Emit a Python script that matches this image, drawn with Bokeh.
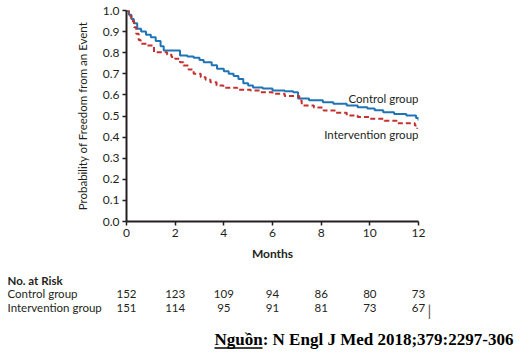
from bokeh.plotting import figure
from bokeh.layouts import column
from bokeh.models import Range1d, FixedTicker, PrintfTickFormatter, Label
from bokeh.core.properties import value
from bokeh.embed import file_html
from bokeh.resources import INLINE

# ---- data ----
control_t = [0, 0.1, 0.2, 0.3, 0.44, 0.6, 0.8, 1.0, 1.2, 1.4, 1.53, 2.2, 2.5, 2.76, 3.0, 3.17, 3.5, 3.72,
             4.0, 4.2, 4.4, 4.6, 4.8, 5.0, 5.2, 5.6, 6.0, 6.5, 6.85, 7.05, 7.5, 8.07, 8.5, 9.05, 9.5,
             9.9, 10.2, 10.55, 11.0, 11.5, 11.9, 12.0]
control_s = [1.0, 0.98, 0.96, 0.94, 0.913, 0.90, 0.885, 0.873, 0.855, 0.83, 0.81, 0.787, 0.782, 0.776,
             0.765, 0.755, 0.74, 0.724, 0.712, 0.70, 0.69, 0.675, 0.655, 0.645, 0.635, 0.630, 0.621,
             0.617, 0.613, 0.583, 0.575, 0.565, 0.558, 0.55, 0.542, 0.535, 0.527, 0.518, 0.51, 0.502,
             0.49, 0.479]
interv_t = [0, 0.1, 0.2, 0.31, 0.4, 0.5, 0.58, 0.85, 1.13, 1.67, 1.85, 2.0, 2.2, 2.34, 2.55, 2.76, 3.05,
            3.25, 3.45, 3.7, 3.98, 4.55, 5.1, 5.5, 6.0, 6.5, 7.1, 7.2, 7.7, 8.1, 8.6, 9.05, 9.5, 10.0,
            10.6, 11.1, 11.85, 11.95]
interv_s = [1.0, 0.975, 0.95, 0.921, 0.89, 0.86, 0.843, 0.834, 0.802, 0.79, 0.78, 0.771, 0.755, 0.739,
            0.72, 0.70, 0.684, 0.672, 0.66, 0.645, 0.634, 0.624, 0.621, 0.613, 0.605, 0.595, 0.573, 0.55,
            0.54, 0.526, 0.515, 0.502, 0.495, 0.487, 0.478, 0.466, 0.455, 0.44]

risk_months = [0, 2, 4, 6, 8, 10, 12]
risk_control = [152, 123, 109, 94, 86, 80, 73]
risk_interv = [151, 114, 95, 91, 81, 73, 67]
group_names = ["Control group", "Intervention group"]
x_ticks = [0, 2, 4, 6, 8, 10, 12]
y_ticks = [0.0, 0.1, 0.2, 0.3, 0.4, 0.5, 0.6, 0.7, 0.8, 0.9, 1.0]
source_text = "Nguồn: N Engl J Med 2018;379:2297-306"

FONT = "Lato"
TXT = "#231f20"
BLUE = "#1f74b6"
RED = "#c3302d"

W = 526
LEFT, RIGHT = 126, 108
TOP_H, BOT_H = 265, 87

p = figure(width=W, height=TOP_H, output_backend="svg", toolbar_location=None,
           x_range=Range1d(0, 12), y_range=Range1d(0, 1),
           min_border_left=LEFT, min_border_right=RIGHT, min_border_top=10, min_border_bottom=TOP_H - 221)
p.frame_align = False
p.outline_line_color = None
p.xgrid.visible = False
p.ygrid.visible = False

for ax in (p.xaxis[0], p.yaxis[0]):
    ax.axis_line_width = 2
    ax.axis_line_color = "#231f20"
    ax.major_tick_line_width = 1.5
    ax.major_tick_line_color = "#231f20"
    ax.major_tick_out = 4
    ax.major_tick_in = 0
    ax.minor_tick_line_color = None
    ax.major_label_text_font = FONT
    ax.major_label_text_font_size = "12px"
    ax.major_label_text_color = TXT
    ax.axis_label_text_font = FONT
    ax.axis_label_text_color = TXT

p.xaxis.ticker = FixedTicker(ticks=x_ticks)
p.yaxis.ticker = FixedTicker(ticks=y_ticks)
p.yaxis.formatter = PrintfTickFormatter(format="%.1f")
p.xaxis.major_label_standoff = 3
p.yaxis.major_label_standoff = 3
p.xaxis.axis_label = "Months"
p.xaxis.axis_label_text_font_style = "bold"
p.xaxis.axis_label_text_font_size = "12px"
p.xaxis.axis_label_standoff = 6
p.yaxis.axis_label = "Probability of Freedom from an Event"
p.yaxis.axis_label_text_font_style = "normal"
p.yaxis.axis_label_text_font_size = "11.5px"
p.yaxis.axis_label_standoff = 11

p.step(control_t, control_s, mode="after", line_color=BLUE, line_width=2)
p.step(interv_t, interv_s, mode="after", line_color=RED, line_width=2, line_dash="5 3")

p.add_layout(Label(x=12, y=0.585, text=group_names[0], text_font=FONT, text_font_size="11.5px",
                   text_align="right", text_baseline="middle", text_color=TXT))
p.add_layout(Label(x=12, y=0.41, text=group_names[1], text_font=FONT, text_font_size="11.5px",
                   text_align="right", text_baseline="middle", text_color=TXT))

# ---- risk table figure (x mapped so months line up with the axis above) ----
px_per_month = (W - LEFT - RIGHT) / 12.0
x0 = -LEFT / px_per_month
x1 = 12 + RIGHT / px_per_month
q = figure(width=W, height=BOT_H, output_backend="svg", toolbar_location=None,
           x_range=Range1d(x0, x1), y_range=Range1d(BOT_H, 0),
           min_border_left=0, min_border_right=0, min_border_top=0, min_border_bottom=0)
q.frame_align = False
q.axis.visible = False
q.grid.visible = False
q.outline_line_color = None

ROW_Y = [28, 42]
label_x = x0 + 7 / px_per_month
TS = "11.5px"
q.text(x=[label_x], y=[15], text=["No. at Risk"], text_font=value(FONT), text_font_size=TS,
       text_font_style="bold", text_baseline="middle", text_color=TXT)
q.text(x=[label_x, label_x], y=ROW_Y, text=group_names, text_font=value(FONT), text_font_size=TS,
       text_baseline="middle", text_color=TXT)
q.text(x=risk_months, y=[ROW_Y[0]] * len(risk_months), text=[str(v) for v in risk_control],
       text_font=value(FONT), text_font_size=TS, text_align="center", text_baseline="middle",
       text_color=TXT)
q.text(x=risk_months, y=[ROW_Y[1]] * len(risk_months), text=[str(v) for v in risk_interv],
       text_font=value(FONT), text_font_size=TS, text_align="center", text_baseline="middle",
       text_color=TXT)
q.text(x=[12.45], y=[44], text=["|"], text_font=value(FONT), text_font_size="15px",
       text_align="center", text_baseline="middle", text_color="#555555")
src_x = x0 + 214 / px_per_month
q.text(x=[src_x], y=[74], text=[source_text], text_font=value("Liberation Serif"),
       text_font_size="17px", text_font_style="bold", text_baseline="middle", text_color="black")
# underline under "Nguồn"
q.segment(x0=[src_x], y0=[82.5], x1=[src_x + 48 / px_per_month], y1=[82.5], line_color="black",
          line_width=1.5)

open("out.html", "w").write(file_html(column(p, q, spacing=0), INLINE))
